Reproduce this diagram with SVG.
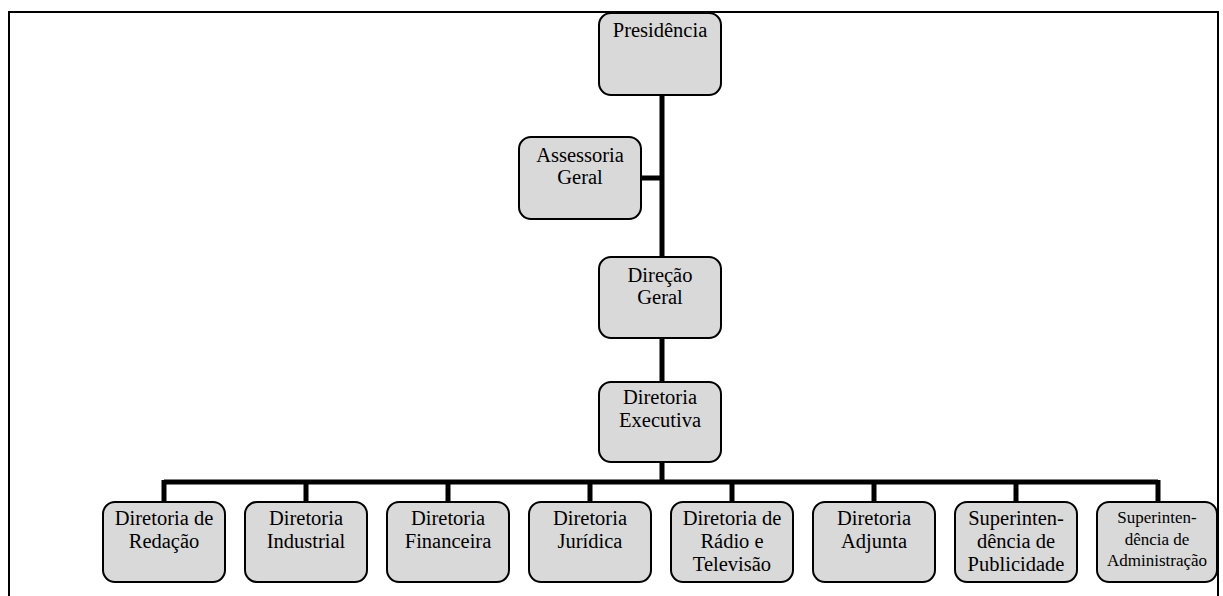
<svg xmlns="http://www.w3.org/2000/svg" width="1223" height="596" viewBox="0 0 1223 596">
<style>
.box{fill:#d9d9d9;stroke:#000;stroke-width:2}
.t{font-family:"Liberation Serif","Times New Roman",serif;font-size:20.5px;fill:#000;text-anchor:middle}
.s{font-size:17px}
.c{stroke:#000;stroke-width:5;fill:none}
</style>
<rect width="1223" height="596" fill="#fff"/>
<path d="M9,596 V12 H1218 V596" fill="none" stroke="#000" stroke-width="2"/>
<g id="connectors">
<path class="c" d="M662,95 V257 M662,338 V382 M662,462 V482 M641,178 H662"/>
<path class="c" d="M164,482 H1158 M164,480 V502 M306,482 V502 M448,482 V502 M590,482 V502 M732,482 V502 M874,482 V502 M1016,482 V502 M1158,480 V502"/>
</g>
<g id="presidencia"><rect class="box" x="599" y="13" width="122" height="82" rx="12"/><text class="t" x="660" y="37">Presidência</text></g>
<g id="assessoria"><rect class="box" x="519" y="137" width="122" height="82" rx="12"/><text class="t" x="580" y="162">Assessoria</text><text class="t" x="580" y="184">Geral</text></g>
<g id="direcao"><rect class="box" x="599" y="257" width="122" height="81" rx="12"/><text class="t" x="660" y="282">Direção</text><text class="t" x="660" y="304">Geral</text></g>
<g id="executiva"><rect class="box" x="599" y="382" width="122" height="80" rx="12"/><text class="t" x="660" y="404">Diretoria</text><text class="t" x="660" y="427">Executiva</text></g>
<g id="redacao"><rect class="box" x="103" y="502" width="122" height="80" rx="12"/><text class="t" x="164" y="525">Diretoria de</text><text class="t" x="164" y="548">Redação</text></g>
<g id="industrial"><rect class="box" x="245" y="502" width="122" height="80" rx="12"/><text class="t" x="306" y="525">Diretoria</text><text class="t" x="306" y="548">Industrial</text></g>
<g id="financeira"><rect class="box" x="387" y="502" width="122" height="80" rx="12"/><text class="t" x="448" y="525">Diretoria</text><text class="t" x="448" y="548">Financeira</text></g>
<g id="juridica"><rect class="box" x="529" y="502" width="122" height="80" rx="12"/><text class="t" x="590" y="525">Diretoria</text><text class="t" x="590" y="548">Jurídica</text></g>
<g id="radio"><rect class="box" x="671" y="502" width="122" height="80" rx="12"/><text class="t" x="732" y="525">Diretoria de</text><text class="t" x="732" y="548">Rádio e</text><text class="t" x="732" y="571">Televisão</text></g>
<g id="adjunta"><rect class="box" x="813" y="502" width="122" height="80" rx="12"/><text class="t" x="874" y="525">Diretoria</text><text class="t" x="874" y="548">Adjunta</text></g>
<g id="publicidade"><rect class="box" x="955" y="502" width="122" height="80" rx="12"/><text class="t" x="1016" y="525">Superinten-</text><text class="t" x="1016" y="548">dência de</text><text class="t" x="1016" y="571">Publicidade</text></g>
<g id="administracao"><rect class="box" x="1097" y="502" width="120" height="80" rx="12"/><text class="t s" x="1157" y="523">Superinten-</text><text class="t s" x="1157" y="545">dência de</text><text class="t s" x="1157" y="566">Administração</text></g>
</svg>
